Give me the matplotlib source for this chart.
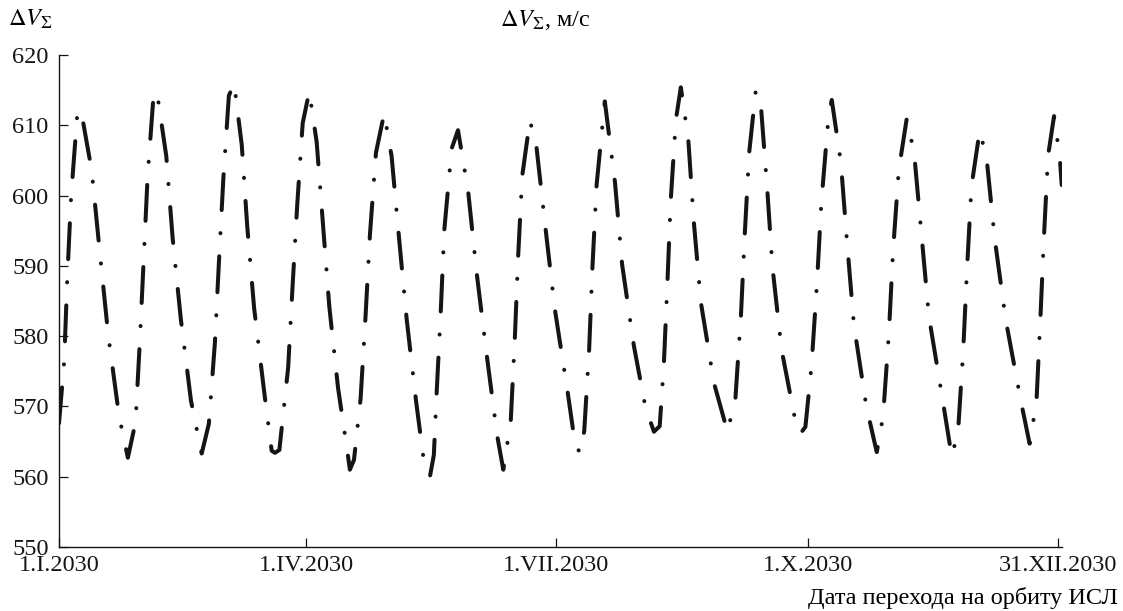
import matplotlib
matplotlib.use('Agg')
import matplotlib.pyplot as plt

# --------------------------------------------------------------------------------------------
# ** DATA ** (day of 2030, delta-V in m/s)

day = [0.0, 1.9, 3.0, 4.4, 6.6, 8.0, 11.9, 14.9, 17.9, 21.9,
       25.1, 27.9, 29.5, 30.9, 32.3, 34.5, 35.7, 39.1, 41.4, 44.4,
       48.1, 52.0, 54.6, 56.8, 58.3, 59.9, 61.9, 63.8, 66.6, 68.6,
       71.1, 74.7, 77.5, 78.7, 80.3, 83.5, 85.1, 86.8, 88.8, 91.2,
       93.9, 96.2, 98.5, 101.7, 104.9, 106.0, 107.5, 109.9, 111.7, 113.3,
       115.5, 118.5, 121.2, 123.9, 126.7, 130.1, 133.0, 135.2, 136.6, 137.6,
       139.1, 140.4, 143.1, 145.4, 149.1, 152.2, 155.8, 159.7, 161.9, 164.6,
       166.1, 167.3, 168.8, 171.6, 174.0, 177.3, 180.7, 185.3, 188.0, 189.8,
       191.4, 193.2, 194.4, 195.9, 198.9, 202.6, 205.2, 209.5, 213.7, 216.8,
       218.9, 220.4, 221.7, 222.9, 224.8, 226.6, 229.3, 231.3, 233.9, 238.7,
       243.6, 246.5, 248.5, 249.9, 251.5, 253.9, 255.7, 258.0, 260.0, 263.3,
       269.0, 270.3, 272.0, 274.2, 276.2, 277.8, 280.3, 281.6, 284.9, 287.2,
       289.7, 294.2, 298.0, 300.3, 302.4, 303.9, 306.0, 308.9, 311.6, 314.3,
       317.0, 321.9, 325.3, 327.6, 329.5, 330.9, 332.5, 335.5, 338.0, 341.0,
       345.0, 350.5, 353.7, 356.2, 357.6, 358.9, 360.4, 362.6, 364.7, 365.4]

dv = [567.6, 576.4, 588.1, 599.8, 611.3, 612.2, 603.6, 591.8, 580.3, 568.6,
      562.7, 567.8, 579.6, 591.1, 602.8, 614.5, 614.7, 605.6, 594.0, 582.4,
      570.8, 563.3, 567.5, 579.0, 590.7, 602.5, 614.2, 616.0, 607.2, 595.6,
      584.0, 572.3, 563.7, 563.4, 563.8, 575.5, 587.0, 598.6, 610.3, 614.8,
      607.6, 595.9, 584.2, 572.6, 564.1, 561.0, 562.4, 571.1, 582.8, 594.4,
      606.1, 611.7, 605.6, 594.0, 582.4, 570.8, 562.1, 560.1, 563.1, 571.8,
      583.4, 595.1, 606.7, 609.3, 600.6, 589.0, 577.5, 565.8, 561.0, 567.8,
      579.6, 591.2, 602.8, 610.7, 606.9, 595.3, 583.8, 572.2, 564.8, 563.4,
      566.5, 578.2, 589.9, 601.5, 613.4, 601.9, 590.2, 578.6, 569.9, 566.4,
      567.2, 575.9, 587.5, 599.2, 610.8, 615.4, 608.1, 596.4, 584.8, 573.3,
      566.4, 571.2, 582.9, 594.5, 606.1, 614.9, 613.2, 601.4, 589.8, 578.1,
      566.6, 566.2, 567.1, 575.7, 587.4, 599.0, 610.7, 613.6, 604.8, 593.2,
      581.5, 570.0, 563.5, 568.6, 580.3, 591.9, 603.6, 610.9, 606.1, 594.5,
      582.8, 571.2, 562.9, 566.3, 577.9, 589.6, 601.3, 609.2, 605.4, 593.8,
      582.3, 570.8, 564.7, 570.7, 582.3, 593.9, 605.6, 611.3, 605.4, 601.5]

x_tick_days = [0, 90, 181, 273, 364]
x_tick_labels = ['1.I.2030', '1.IV.2030', '1.VII.2030', '1.X.2030', '31.XII.2030']
y_ticks = [550, 560, 570, 580, 590, 600, 610, 620]

# --------------------------------------------------------------------------------------------
# ** PLOT **

plt.rcParams['font.family'] = ['Liberation Serif', 'DejaVu Serif']
plt.rcParams['mathtext.fontset'] = 'stix'
plt.rcParams['lines.scale_dashes'] = False

W, H = 1123, 611
FS = 17.5
fig = plt.figure(figsize=(W / 100, H / 100), dpi=100)
ax = fig.add_axes([59 / W, 64 / H, 1003 / W, 492 / H])

ax.plot(day, dv, color='#151515', lw=2.9,
        dashes=(25.9, 16.6, 0.1, 16.6),
        dash_capstyle='round', solid_capstyle='round', dash_joinstyle='round')

ax.set_xlim(0, 365.5)
ax.set_ylim(550, 620)
ax.set_xticks(x_tick_days)
ax.set_xticklabels(x_tick_labels)
ax.set_yticks(y_ticks)

for side in ['top', 'right']:
    ax.spines[side].set_visible(False)
for side in ['left', 'bottom']:
    ax.spines[side].set_linewidth(1.0)
    ax.spines[side].set_color('#151515')

ax.tick_params(direction='in', length=6.5, width=0.9, labelsize=FS, colors='#151515')
ax.tick_params(axis='y', pad=7.5)
ax.tick_params(axis='x', pad=5.5)

fig.text(8 / W, 1 - 26 / H, r'$\Delta V_\Sigma$', fontsize=FS, ha='left', va='baseline')
fig.text(500 / W, 1 - 26 / H, r'$\Delta V_\Sigma$, м/с', fontsize=FS, ha='left', va='baseline')
fig.text(1118 / W, 1 - 604 / H, 'Дата перехода на орбиту ИСЛ', fontsize=FS,
         ha='right', va='baseline')

fig.savefig('out.png', dpi=100)
